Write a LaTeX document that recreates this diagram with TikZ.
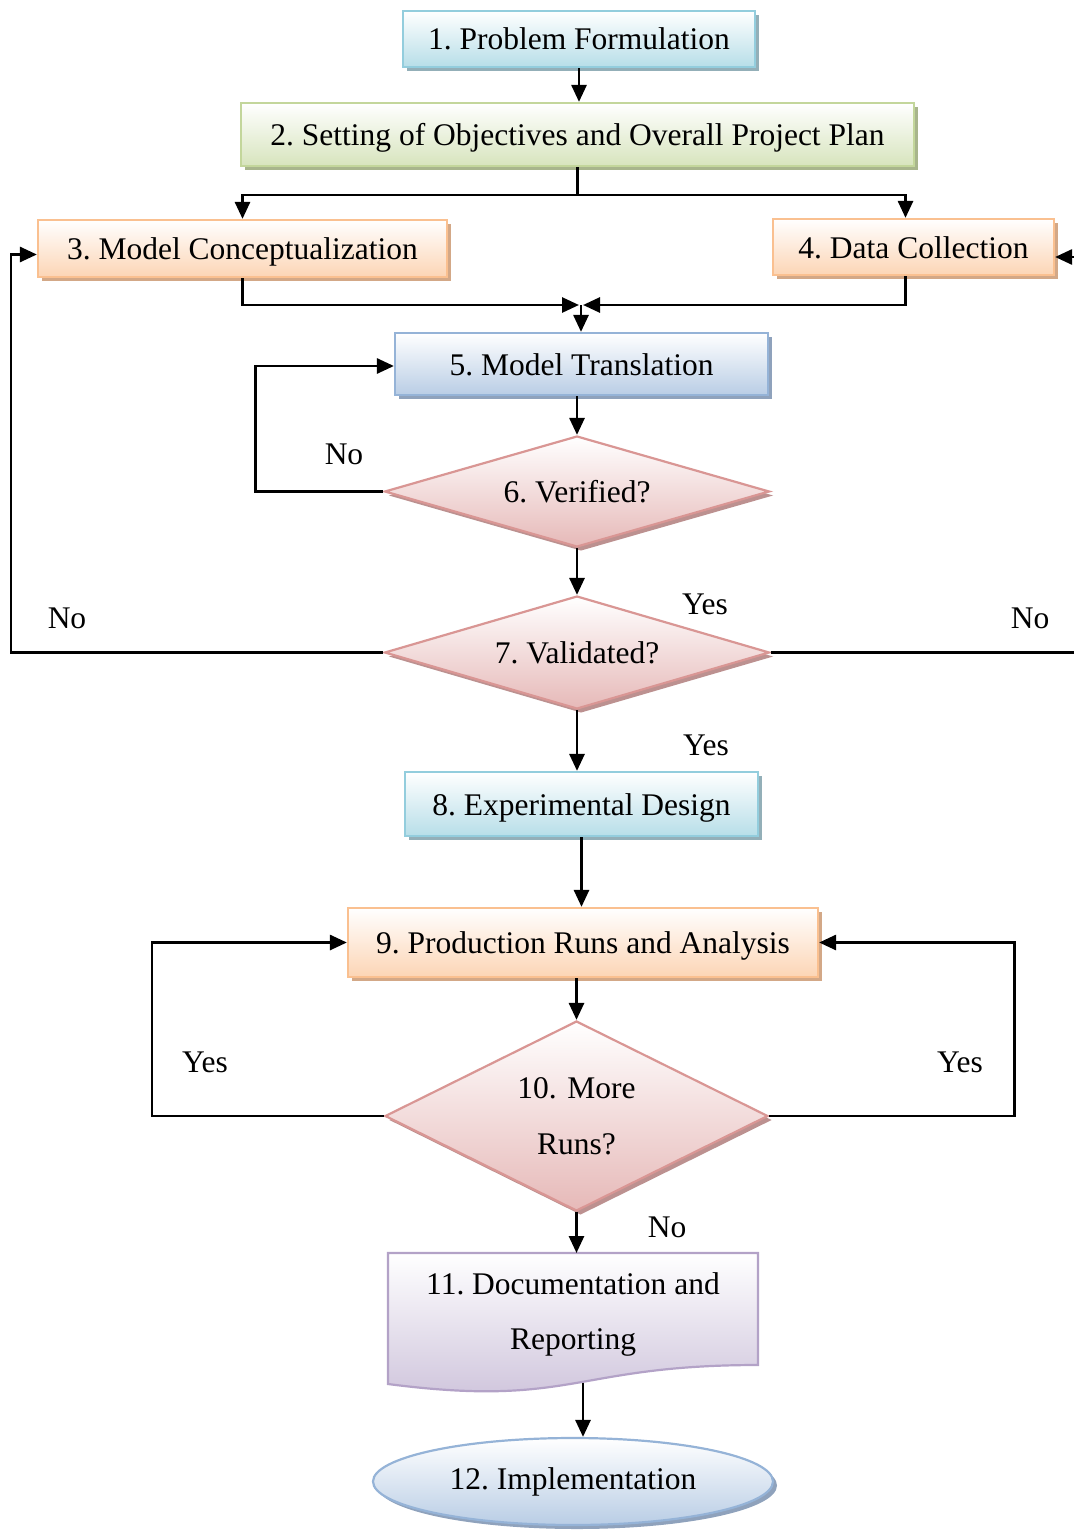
\documentclass[tikz,border=0pt]{standalone}
\usepackage{fontspec}
\setmainfont{Liberation Serif}
\usetikzlibrary{shapes.geometric,arrows.meta,calc,shadows}

% fill, border and shadow colours of the five box families
\definecolor{aquaD}{HTML}{93CDDD}\definecolor{aquaF}{HTML}{B7DEE8}\definecolor{aquaS}{HTML}{93AFB8}
\definecolor{greenD}{HTML}{C3D69B}\definecolor{greenF}{HTML}{D7E4BD}\definecolor{greenS}{HTML}{A8B58C}
\definecolor{orangeD}{HTML}{FAC090}\definecolor{orangeF}{HTML}{FCD5B5}\definecolor{orangeS}{HTML}{D3A887}
\definecolor{blueD}{HTML}{95B3D7}\definecolor{blueF}{HTML}{B9CDE5}\definecolor{blueS}{HTML}{8FA2BC}
\definecolor{redD}{HTML}{D99694}\definecolor{redF}{HTML}{E6B9B8}\definecolor{redS}{HTML}{BC9190}
\definecolor{purpleD}{HTML}{B3A2C7}\definecolor{purpleF}{HTML}{CCC1DA}\definecolor{purpleS}{HTML}{A49CB2}

\newcommand{\bigtext}{\fontsize{31.5}{38}\selectfont\frenchspacing}

\tikzset{
  box/.style={rectangle, line width=2.2pt, inner sep=0pt, font=\bigtext,
              text height=22pt, text depth=0pt, top color=white},
  family/.style n args={3}{draw=#1, bottom color=#2,
              general shadow={fill=#3, shadow xshift=4pt, shadow yshift=-4pt}},
  aquabox/.style={box, family={aquaD}{aquaF}{aquaS}},
  greenbox/.style={box, family={greenD}{greenF}{greenS}},
  orangebox/.style={box, family={orangeD}{orangeF}{orangeS}},
  bluebox/.style={box, family={blueD}{blueF}{blueS}},
  decision/.style={diamond, aspect=2, line width=2.2pt, inner sep=0pt, font=\bigtext,
              top color=white, family={redD}{redF}{redS}},
  terminal/.style={ellipse, line width=2.2pt, inner sep=0pt, font=\bigtext,
              top color=white, family={blueD}{blueF}{blueS}},
  wire/.style={line width=2.8pt},
  arr/.style={wire, -{Triangle[length=17pt,width=15pt]}},
  lbl/.style={font=\bigtext, inner sep=0pt}
}

\begin{document}
\begin{tikzpicture}[x=1pt,y=-1pt]
\useasboundingbox (0,0) rectangle (1073,1533);

% process boxes and decisions
\node[aquabox, minimum width=352, minimum height=56] (n1) at (579,39) {1. Problem Formulation};
\node[greenbox, minimum width=673, minimum height=63] (n2) at (577.5,134.5) {2. Setting of Objectives and Overall Project Plan};
\node[orangebox, minimum width=409, minimum height=57] (n3) at (242.5,248.5) {3. Model Conceptualization};
\node[orangebox, minimum width=281, minimum height=56] (n4) at (913.5,247) {4. Data Collection};
\node[bluebox, minimum width=373, minimum height=62] (n5) at (581.5,364) {5. Model Translation};
\node[decision, minimum width=385, minimum height=111] (n6) at (577,491.5) {6. Verified?};
\node[decision, minimum width=385, minimum height=113] (n7) at (577,652.5) {7. Validated?};
\node[aquabox, minimum width=353, minimum height=64] (n8) at (581.5,804) {8. Experimental Design};
\node[orangebox, minimum width=470, minimum height=69] (n9) at (583,942.5) {9. Production Runs and Analysis};
\node[decision, minimum width=383, minimum height=190, align=center,
      font=\fontsize{31.5}{56}\selectfont] (n10) at (576.5,1116) {10. More\\Runs?};

% document shape of step 11
\coordinate (c11) at (573,1311);
\fill[purpleS, shift={(4,4)}] ($(c11)+(-185,-58)$) -- ($(c11)+(185,-58)$) -- ($(c11)+(185,54)$)
  .. controls ($(c11)+(0,54)$) and ($(c11)+(0,97)$) .. ($(c11)+(-185,73)$) -- cycle;
\path[draw=purpleD, line width=2.2pt, top color=white, bottom color=purpleF]
  ($(c11)+(-185,-58)$) -- ($(c11)+(185,-58)$) -- ($(c11)+(185,54)$)
  .. controls ($(c11)+(0,54)$) and ($(c11)+(0,97)$) .. ($(c11)+(-185,73)$) -- cycle;
\coordinate (t11) at ($(c11)+(3,-58)$);
\node[align=center, inner sep=0pt, font=\fontsize{31.5}{55}\selectfont\frenchspacing] (n11)
  at ($(c11)+(0,3)$) {11. Documentation and\\Reporting};
\coordinate (d11) at ($(c11)+(10,72)$);

\node[terminal, minimum width=400, minimum height=87] (n12) at (573,1481.5) {12. Implementation};

% connectors
\draw[arr] (n1.south) -- (n1.south |- n2.north);
\draw[arr] (n2.south) -- ++(0,28) -| (n3.north);
\draw[arr] (n2.south) ++(0,28) -| ([xshift=-8pt]n4.north);

\coordinate (m5) at (581,305);
\draw[arr] (n3.south) |- ([xshift=-2pt]m5);
\draw[arr] ([xshift=-8pt]n4.south) |- ([xshift=2pt]m5);
\draw[arr] (m5) -- (m5 |- n5.north);

\draw[arr] (n6.north |- n5.south) -- (n6.north);
\draw[arr] (n6.west) -- ++(-128,0) |- ([yshift=-2pt]n5.west);
\draw[arr] (n6.south) -- (n7.north);

\coordinate (L7) at (11,0);
\coordinate (R7) at (1085,0);
\draw[arr] (n7.west) -- (L7 |- n7.west) |- ([yshift=-6pt]n3.west);
\draw[arr] (n7.east) -- (R7 |- n7.east) |- ([yshift=-10pt]n4.east);

\draw[arr] (n7.south) -- (n7.south |- n8.north);
\draw[arr] (n8.south) -- (n8.south |- n9.north);
\draw[arr] (n10.north |- n9.south) -- (n10.north);
\draw[arr] (n10.west) -- ++(-232,0) |- (n9.west);
\draw[arr] (n10.east) -- ++(245,0) |- (n9.east);
\draw[arr] (n10.south) -- (n10.south |- t11);
\draw[arr] (d11) -- (d11 |- n12.north);

% branch labels
\node[lbl] (l6no) at (344,454) {No};
\node[lbl] (l7yes) at (705,604) {Yes};
\node[lbl] (l7no) at (67,618) {No};
\node[lbl] (l7no2) at (1030,618) {No};
\node[lbl] (l8yes) at (706,745) {Yes};
\node[lbl] (l10yes) at (205,1062) {Yes};
\node[lbl] (l10yes2) at (960,1062) {Yes};
\node[lbl] (l10no) at (667,1227) {No};
\end{tikzpicture}
\end{document}
